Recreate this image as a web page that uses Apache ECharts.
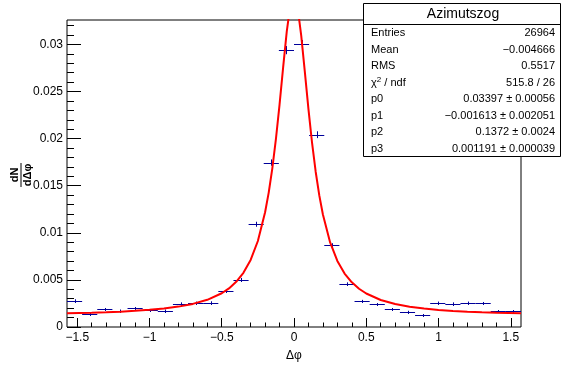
<!DOCTYPE html>
<html><head><meta charset="utf-8">
<script src="https://cdn.jsdelivr.net/npm/echarts@6/dist/echarts.min.js"></script>
<style>html,body{margin:0;padding:0;background:#fff}#c{width:562px;height:367px}</style>
</head><body><div id="c"></div>
<script>
// Histogram "Azimutszog": 30 bins over [-pi/2, pi/2]
const binCenters = [-1.51844,-1.41372,-1.30900,-1.20428,-1.09956,-0.99484,-0.89012,-0.78540,-0.68068,-0.57596,
  -0.47124,-0.36652,-0.26180,-0.15708,-0.05236,0.05236,0.15708,0.26180,0.36652,0.47124,
  0.57596,0.68068,0.78540,0.89012,0.99484,1.09956,1.20428,1.30900,1.41372,1.51844];
const binValues = [0.00281,0.00140,0.00186,0.00175,0.00197,0.00178,0.00175,0.00249,0.00257,0.00260,
  0.00380,0.00503,0.01091,0.01746,0.02940,0.03003,0.02042,0.00866,0.00457,0.00275,
  0.00239,0.00186,0.00162,0.00127,0.00257,0.00249,0.00257,0.00253,0.00169,0.00169];
const binErrors = [0.000135,0.000095,0.00011,0.000106,0.000113,0.000107,0.000106,0.000127,0.000129,0.00013,
  0.000157,0.00018,0.000265,0.000336,0.000436,0.00044,0.000363,0.000236,0.000172,0.000133,
  0.000124,0.00011,0.000102,0.00009,0.000129,0.000127,0.000129,0.000128,0.000104,0.000104];
const binHalfWidth = 0.05236;

// Fit curve
const curveX = [-1.5708,-1.4,-1.3,-1.2,-1.1,-1.0,-0.9,-0.8,-0.7,-0.6,-0.5,-0.45,-0.4,-0.35,-0.3,-0.25,-0.2,
  -0.175,-0.15,-0.125,-0.1,-0.075,-0.05,-0.025,0,0.025,0.05,0.075,0.1,0.125,0.15,0.175,0.2,
  0.25,0.3,0.35,0.4,0.45,0.5,0.6,0.7,0.8,0.9,1.0,1.1,1.2,1.3,1.4,1.5708];
const curveY = [0.001449,0.001515,0.001566,0.001631,0.001713,0.001821,0.001965,0.002165,0.002453,0.002888,0.003584,0.004099,0.004793,0.005752,0.007120,0.009132,0.012182,
  0.014270,0.016846,0.019969,0.023622,0.027601,0.031401,0.034200,0.035157,0.033930,0.030951,0.027088,0.023130,0.019539,0.016486,0.013977,0.011944,
  0.008977,0.007015,0.005680,0.004741,0.004061,0.003556,0.002870,0.002442,0.002158,0.001960,0.001817,0.001710,0.001628,0.001564,0.001513,0.001448];

// Axes
const xMin = -1.5708, xMax = 1.5708;
const yMin = 0, yMax = 0.0326;
const xMajorTicks = [-1.5,-1,-0.5,0,0.5,1,1.5];
const xMinorTicks = [-1.4,-1.3,-1.2,-1.1,-0.9,-0.8,-0.7,-0.6,-0.4,-0.3,-0.2,-0.1,0.1,0.2,0.3,0.4,0.6,0.7,0.8,0.9,1.1,1.2,1.3,1.4];
const yMajorTicks = [0,0.005,0.01,0.015,0.02,0.025,0.03];
const yMinorTicks = [0.001,0.002,0.003,0.004,0.006,0.007,0.008,0.009,0.011,0.012,0.013,0.014,0.016,0.017,0.018,0.019,
  0.021,0.022,0.023,0.024,0.026,0.027,0.028,0.029,0.031,0.032];
const xTitle = 'Δφ';
const yTitleNum = 'dN';
const yTitleDen = 'dΔφ';

// Stats box
const statsTitle = 'Azimutszog';
const statsNames = ['Entries','Mean','RMS','χ{sup|2} / ndf','p0','p1','p2','p3'];
const statsValues = ['26964','−0.004666','0.5517','515.8 / 26','0.03397 ± 0.00056','−0.001613 ± 0.002051','0.1372 ± 0.0024','0.001191 ± 0.000039'];

const FONT = 'Liberation Sans, Arial, Helvetica, sans-serif';
const fmt = v => String(v).replace('-', '−');

const chart = echarts.init(document.getElementById('c'), null, {renderer: 'canvas'});

const graphics = [];
// y-axis title (rotated fraction)
graphics.push({
  type: 'group', x: 20.5, y: 175, rotation: Math.PI / 2, z: 10,
  children: [
    {type: 'text', x: 0, y: -6, style: {text: yTitleNum, font: 'bold 11px ' + FONT, fill: '#000', align: 'center', verticalAlign: 'middle'}},
    {type: 'line', shape: {x1: -12, y1: 0.5, x2: 12, y2: 0.5}, style: {stroke: '#000', lineWidth: 1}},
    {type: 'text', x: 0, y: 7, style: {text: yTitleDen, font: 'bold 11px ' + FONT, fill: '#000', align: 'center', verticalAlign: 'middle'}}
  ]
});
// stats box
const bx = 363, by = 3, bw = 197, bh = 153, titleH = 21;
const rowH = (bh - titleH) / statsNames.length;
const boxChildren = [
  {type: 'rect', shape: {x: bx + 0.5, y: by + 0.5, width: bw, height: bh}, style: {fill: '#fff', stroke: '#000', lineWidth: 1}},
  {type: 'line', shape: {x1: bx, y1: by + titleH + 0.5, x2: bx + bw, y2: by + titleH + 0.5}, style: {stroke: '#000', lineWidth: 1}},
  {type: 'text', x: 463, y: by + titleH / 2 + 1, style: {text: statsTitle, font: '14px ' + FONT, fill: '#000', align: 'center', verticalAlign: 'middle'}}
];
statsNames.forEach((n, i) => {
  const yy = by + titleH + rowH * (i + 0.5) + 1;
  boxChildren.push({type: 'text', x: 371, y: yy, style: {text: n, font: '11px ' + FONT, fill: '#000', align: 'left', verticalAlign: 'middle',
    rich: {sup: {fontSize: 8, verticalAlign: 'top', padding: [0, 0, 5, 0], fontFamily: FONT}}}});
  boxChildren.push({type: 'text', x: 555, y: yy, style: {text: statsValues[i], font: '11px ' + FONT, fill: '#000', align: 'right', verticalAlign: 'middle'}});
});
graphics.push({type: 'group', z: 20, children: boxChildren});

const tickLine = {color: '#000', width: 1};
const noLine = {show: false, onZero: false};
const option = {
  animation: false,
  backgroundColor: '#fff',
  grid: {left: 67, top: 20, width: 454, height: 309, show: true, borderColor: '#000', borderWidth: 1, backgroundColor: 'transparent'},
  xAxis: [
    {type: 'value', min: xMin, max: xMax, position: 'bottom',
     axisLine: noLine, splitLine: {show: false},
     axisTick: {show: true, inside: true, length: 9, customValues: xMajorTicks, lineStyle: tickLine},
     axisLabel: {customValues: xMajorTicks, formatter: fmt, fontSize: 12, fontFamily: FONT, color: '#000', margin: 5},
     name: xTitle, nameLocation: 'middle', nameGap: 29,
     nameTextStyle: {fontSize: 12, fontFamily: FONT, color: '#000', verticalAlign: 'middle'}},
    {type: 'value', min: xMin, max: xMax, position: 'bottom',
     axisLine: noLine, splitLine: {show: false},
     axisTick: {show: true, inside: true, length: 4.5, customValues: xMinorTicks, lineStyle: tickLine},
     axisLabel: {show: false}}
  ],
  yAxis: [
    {type: 'value', min: yMin, max: yMax, position: 'left',
     axisLine: noLine, splitLine: {show: false},
     axisTick: {show: true, inside: true, length: 14, customValues: yMajorTicks, lineStyle: tickLine},
     axisLabel: {customValues: yMajorTicks, formatter: fmt, fontSize: 12, fontFamily: FONT, color: '#000', margin: 4}},
    {type: 'value', min: yMin, max: yMax, position: 'left',
     axisLine: noLine, splitLine: {show: false},
     axisTick: {show: true, inside: true, length: 7, customValues: yMinorTicks, lineStyle: tickLine},
     axisLabel: {show: false}}
  ],
  series: [
    {
      type: 'custom', xAxisIndex: 0, yAxisIndex: 0, z: 2, clip: true,
      data: binCenters.map((x, i) => [x, binValues[i], binErrors[i]]),
      renderItem: function (params, api) {
        const x = api.value(0), y = api.value(1), e = api.value(2);
        const l = api.coord([x - binHalfWidth, y]);
        const r = api.coord([x + binHalfWidth, y]);
        const t = api.coord([x, y + e]);
        const b = api.coord([x, y - e]);
        const yy = Math.round(l[1]) + 0.5;
        const xx = Math.round(t[0]) + 0.5;
        const st = {stroke: '#00009a', lineWidth: 1};
        return {type: 'group', children: [
          {type: 'line', shape: {x1: l[0], y1: yy, x2: r[0], y2: yy}, style: st},
          {type: 'line', shape: {x1: xx, y1: Math.min(t[1], yy - 1.5), x2: xx, y2: Math.max(b[1], yy + 1.5)}, style: st}
        ]};
      }
    },
    {
      type: 'line', xAxisIndex: 0, yAxisIndex: 0, z: 5, clip: true,
      data: curveX.map((x, i) => [x, curveY[i]]),
      showSymbol: false, smooth: false,
      lineStyle: {color: '#ff0000', width: 2}
    }
  ],
  graphic: graphics
};
chart.setOption(option);
</script>
</body></html>
